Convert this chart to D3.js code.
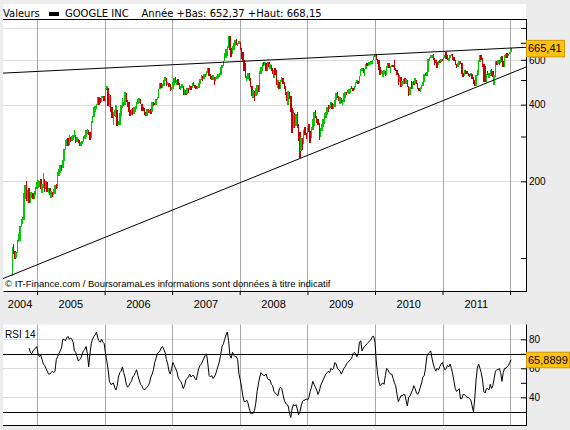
<!doctype html>
<html>
<head>
<meta charset="utf-8">
<title>GOOGLE INC</title>
<style>
  body { margin: 0; padding: 0; background: #ececec; }
  svg { display: block; }
  text { font-family: "Liberation Sans", Arial, sans-serif; fill: #000; }
  .head text { font-family: "DejaVu Sans", sans-serif; font-size: 10px; }
</style>
</head>
<body>
<svg id="chart" width="570" height="430"></svg>
<script src="https://cdn.jsdelivr.net/npm/d3@7"></script>
<script>
// weekly bars (week ending friday), 20 aug 2004 -> 6 jan 2012
var closes = [
  108.3, 106.2, 100.0, 105.3, 117.5, 119.8, 132.6, 137.7, 144.1, 172.4, 190.6, 169.4, 182.0, 169.4, 179.4, 180.4, 171.7, 180.0, 187.9, 192.8,
  195.3, 200.0, 188.3, 190.3, 204.4, 187.4, 198.0, 185.2, 185.9, 177.8, 180.0, 179.3, 180.0, 192.1, 191.3, 215.8, 220.0, 228.0, 226.0, 241.6, 266.0, 280.3, 286.3, 280.3, 297.3, 291.3, 296.2, 301.2, 302.4, 287.8, 292.4, 289.7, 280.0, 283.6, 288.5, 299.1, 300.2, 315.4, 316.5, 313.0, 296.1, 339.9, 358.2, 390.4, 390.4, 400.2, 428.6, 417.7, 409.2, 430.2, 430.9, 414.9,
  465.7, 466.3, 399.5, 433.5, 381.6, 362.6, 368.8, 377.4, 378.2, 337.5, 339.8, 365.8, 390.0, 406.2, 402.2, 437.1, 417.9, 394.3, 375.3, 370.0, 381.4, 379.4, 386.6, 390.7, 404.9, 419.3, 420.5, 403.5, 390.1, 388.1, 373.9, 368.5, 383.4, 373.3, 378.6, 377.9, 409.9, 403.8, 401.9, 420.5, 427.3, 459.7, 475.2, 471.8, 473.6, 498.8, 505.0, 480.8, 484.1, 480.3, 455.6, 460.5,
  487.2, 505.0, 489.8, 495.8, 481.5, 461.9, 469.9, 470.6, 438.7, 453.0, 440.9, 461.8, 458.2, 471.5, 466.3, 482.5, 479.0, 471.1, 466.7, 470.3, 483.5, 500.4, 515.5, 505.9, 525.0, 522.7, 539.4, 552.2, 520.1, 511.9, 503.0, 515.8, 500.0, 515.0, 515.3, 519.4, 528.8, 560.1, 567.3, 594.1, 637.4, 644.7, 674.6, 711.3, 664.0, 633.6, 676.7, 693.0, 714.9, 690.0, 696.7, 702.5,
  657.0, 638.3, 600.3, 566.4, 515.9, 516.7, 529.6, 507.8, 471.2, 433.4, 437.9, 433.6, 438.5, 471.1, 457.5, 539.4, 544.1, 581.3, 573.2, 580.1, 544.6, 585.8, 567.0, 571.5, 546.4, 528.1, 537.0, 533.8, 481.3, 492.0, 467.9, 495.0, 510.2, 490.6, 463.3, 444.3, 437.7, 449.2, 431.0, 386.9, 332.0, 372.5, 339.3, 359.4, 331.1, 310.0, 262.4, 293.0, 284.0, 315.8, 310.2, 300.4,
  321.3, 315.1, 299.7, 324.7, 338.5, 371.3, 357.7, 346.5, 338.0, 308.6, 324.4, 330.2, 347.7, 369.8, 372.5, 392.2, 389.5, 393.7, 407.3, 390.0, 393.5, 417.2, 444.3, 424.8, 420.1, 425.3, 408.5, 414.4, 430.3, 446.7, 443.1, 457.1, 460.0, 465.2, 464.8, 461.3, 472.1, 491.5, 492.5, 484.6, 516.3, 549.9, 553.7, 536.1, 551.1, 572.1, 570.0, 579.8, 585.0, 590.5, 596.4, 618.5, 620.0,
  602.0, 580.0, 550.0, 529.9, 531.3, 533.1, 540.8, 526.8, 564.2, 579.5, 560.0, 562.7, 568.8, 566.2, 550.2, 545.0, 525.7, 493.1, 507.5, 472.1, 485.6, 498.7, 488.5, 500.0, 472.7, 436.6, 467.5, 459.6, 490.1, 484.9, 500.2, 486.4, 462.0, 458.8, 470.3, 476.1, 490.2, 527.3, 525.6, 536.4, 601.5, 612.5, 613.7, 625.1, 603.3, 590.8, 590.0, 573.0, 592.2, 590.8, 604.2, 594.0,
  616.4, 624.2, 611.8, 601.0, 611.0, 624.5, 630.1, 610.0, 600.6, 576.7, 561.1, 579.7, 591.8, 578.2, 530.7, 525.1, 544.1, 535.3, 529.6, 524.0, 520.9, 523.1, 509.5, 485.0, 474.9, 521.0, 532.0, 597.6, 618.2, 603.7, 579.0, 563.8, 490.9, 526.9, 524.8, 524.9, 546.7, 525.5, 515.0, 515.1, 591.7, 590.5, 600.1, 596.1, 608.4, 594.9, 563.0, 620.4, 627.4, 626.0, 633.1, 645.9,
  665.41
];
var highs = [
  110, 113.3, 105, 106, 118, 124, 133, 142, 145, 180, 194, 201, 185, 188, 181, 182, 178, 183, 190, 199,
  202, 201, 204, 196, 216, 201, 200, 198, 189, 189, 183, 182, 187, 193, 195, 218, 223, 231, 232, 243, 268, 290, 293, 295, 304, 298, 300, 305, 317, 305, 298, 294, 289, 286, 289, 300, 303, 317, 320, 319, 313, 345, 360, 392, 395, 404, 430, 428, 426, 432, 434, 432,
  467, 475, 466, 441, 436, 390, 374, 382, 399, 380, 346, 370, 398, 423, 409, 450, 443, 416, 411, 381, 383, 387, 391, 394, 410, 420, 423, 420, 404, 393, 387, 375, 386, 383, 380, 385, 411, 408, 406, 421, 430, 461, 485, 486, 482, 500, 513, 509, 489, 488, 476, 468,
  490, 507, 513, 500, 506, 486, 472, 484, 475, 460, 457, 465, 465, 476, 472, 485, 490, 480, 475, 472, 487, 505, 523, 518, 527, 528, 541, 555, 558, 527, 520, 523, 516, 516, 520, 528, 532, 561, 570, 595, 640, 660, 680, 741, 747, 666, 677, 697, 716, 724, 697, 714,
  698, 670, 644, 590, 585, 517, 535, 531, 511, 472, 457, 451, 463, 478, 476, 542, 560, 584, 590, 589, 585, 589, 590, 580, 575, 555, 545, 555, 546, 500, 488, 500, 515, 510, 493, 475, 450, 451, 449, 427, 384, 382, 370, 369, 373, 335, 312, 297, 297, 318, 326, 311,
  323, 337, 316, 326, 352, 373, 381, 360, 352, 335, 325, 337, 351, 372, 376, 393, 398, 400, 410, 400, 401, 419, 445, 448, 432, 428, 425, 418, 445, 448, 449, 458, 462, 466, 472, 463, 473, 492, 500, 496, 517, 552, 555, 555, 553, 577, 583, 588, 590, 595, 597, 620, 625,
  630, 606, 598, 560, 548, 541, 546, 544, 566, 582, 581, 567, 572, 575, 597, 558, 549, 531, 523, 512, 496, 506, 507, 504, 501, 475, 468, 494, 491, 494, 507, 498, 484, 466, 471, 479, 492, 528, 531, 539, 603, 618, 624, 629, 630, 612, 600, 585, 596, 597, 606, 604,
  618, 628, 642, 625, 612, 625, 631, 632, 615, 601, 575, 585, 594, 594, 581, 532, 546, 547, 542, 533, 528, 535, 526, 514, 500, 523, 547, 599, 625, 627, 611, 568, 568, 528, 541, 535, 548, 550, 541, 523, 593, 595, 600, 600, 614, 620, 590, 624, 631, 637, 634, 646,
  668.15
];
var lows = [
  85, 103.6, 99, 101, 105, 116, 117, 133, 136, 141, 170, 168, 167, 165, 165, 172, 170, 171, 176, 187,
  188, 190, 186, 180, 189, 182, 186, 181, 180, 176, 172, 174, 176, 178, 186, 188, 210, 215, 220, 226, 240, 270, 276, 275, 278, 286, 289, 290, 298, 282, 286, 283, 276, 276, 280, 286, 292, 299, 306, 305, 290, 296, 339, 360, 376, 385, 405, 400, 405, 412, 423, 414,
  408, 455, 395, 390, 376, 355, 332, 362, 357, 331, 332, 334, 362, 388, 395, 400, 411, 390, 373, 362, 365, 364, 369, 376, 385, 402, 406, 402, 378, 378, 363, 360, 362, 370, 370, 369, 376, 396, 397, 400, 417, 425, 462, 465, 465, 478, 494, 475, 478, 471, 454, 456,
  460, 480, 488, 479, 478, 459, 455, 466, 438, 437, 437, 440, 444, 458, 458, 466, 474, 463, 462, 462, 467, 485, 498, 497, 505, 515, 521, 535, 518, 505, 500, 501, 480, 497, 504, 511, 512, 525, 559, 566, 594, 610, 622, 670, 655, 615, 630, 656, 681, 685, 680, 690,
  655, 602, 586, 542, 508, 495, 506, 495, 470, 432, 423, 412, 436, 440, 448, 447, 530, 555, 566, 570, 540, 543, 563, 550, 544, 526, 510, 522, 478, 465, 460, 460, 490, 483, 460, 438, 415, 400, 420, 375, 310, 325, 324, 330, 323, 287, 247, 270, 265, 281, 304, 293,
  298, 312, 282, 295, 318, 331, 355, 340, 333, 290, 299, 316, 326, 337, 355, 363, 375, 385, 389, 385, 384, 393, 417, 423, 414, 402, 406, 399, 410, 423, 435, 443, 440, 446, 460, 453, 458, 470, 488, 482, 485, 520, 541, 535, 520, 550, 565, 565, 572, 577, 580, 598, 614,
  598, 579, 548, 525, 526, 516, 530, 519, 524, 559, 556, 535, 560, 560, 549, 540, 525, 478, 492, 470, 474, 481, 481, 481, 471, 433, 436, 459, 460, 477, 484, 482, 460, 451, 450, 462, 475, 497, 518, 520, 538, 595, 609, 611, 600, 575, 582, 555, 574, 584, 589, 592,
  596, 612, 605, 598, 595, 608, 619, 600, 595, 573, 555, 564, 572, 577, 526, 516, 519, 530, 528, 520, 513, 518, 503, 484, 473, 476, 520, 525, 589, 597, 564, 490, 490, 485, 524, 510, 517, 518, 514, 480, 539, 572, 580, 573, 585, 588, 561, 566, 612, 612, 622, 630,
  652.37
];
// RSI 14, one value per week, ending on the last bar
var rsi = [
  74, 71, 70, 72, 73, 74, 75, 70, 68, 69,
  66, 63, 62, 60, 58, 56, 56, 57, 58, 57,
  58, 66, 68, 70, 72, 74, 80, 80, 79, 81,
  82, 80, 81, 80, 78, 72, 71, 68, 65, 66,
  67, 70, 72, 73, 75, 70, 61, 70, 77, 80,
  82, 83, 85, 81, 79, 78, 80, 78, 77, 70,
  65, 59, 51, 49, 49, 50, 47, 45, 48, 54,
  57, 58, 61, 57, 54, 49, 47, 48, 50, 51,
  54, 55, 57, 59, 55, 52, 49, 48, 46, 45,
  46, 47, 48, 50, 54, 56, 59, 64, 67, 70,
  71, 72, 74, 75, 73, 71, 66, 63, 58, 56,
  60, 64, 62, 60, 58, 54, 52, 51, 49, 46,
  48, 52, 53, 54, 56, 54, 55, 55, 53, 52,
  56, 60, 62, 63, 65, 67, 69, 70, 63, 55,
  54, 55, 53, 54, 56, 59, 62, 65, 70, 75,
  77, 80, 83, 85, 79, 69, 67, 71, 69, 68,
  68, 66, 56, 52, 47, 41, 37, 37, 38, 36,
  32, 29, 29, 29, 31, 36, 44, 49, 54, 57,
  56, 55, 55, 56, 53, 52, 52, 49, 48, 44,
  43, 42, 41, 45, 47, 46, 42, 38, 36, 35,
  34, 29, 26, 32, 35, 34, 35, 32, 28, 30,
  34, 37, 38, 38, 39, 38, 40, 44, 47, 51,
  49, 47, 45, 42, 44, 48, 50, 52, 54, 56,
  57, 58, 57, 60, 59, 60, 64, 63, 60, 59,
  58, 56, 58, 60, 61, 63, 64, 65, 66, 67,
  70, 71, 70, 68, 70, 78, 79, 72, 74, 75,
  76, 77, 78, 79, 80, 82, 82, 78, 65, 56,
  51, 48, 49, 50, 49, 55, 60, 59, 57, 56,
  56, 53, 50, 48, 42, 37, 39, 41, 41, 42,
  42, 38, 34, 40, 41, 43, 45, 48, 46, 43,
  42, 44, 47, 50, 54, 55, 60, 68, 70, 71,
  72, 67, 63, 60, 58, 60, 59, 61, 63, 64,
  61, 59, 60, 62, 61, 63, 60, 56, 51, 46,
  44, 45, 46, 39, 39, 42, 42, 41, 40, 40,
  39, 38, 34, 30, 39, 52, 60, 63, 60, 57,
  52, 44, 43, 46, 46, 45, 49, 46, 48, 53,
  58, 59, 59, 60, 57, 51, 57, 60, 60, 61,
  62, 64, 65.8899
];
var years = [2004, 2005, 2006, 2007, 2008, 2009, 2010, 2011];
var priceTicks = [100, 200, 300, 400, 500, 600, 700, 800];
var priceLabels = [200, 400, 600];
var priceGrid = [200, 400, 600, 800];
var rsiTicks = [40, 50, 60, 70, 80];
var rsiLabels = [40, 60, 80];
var rsiGrid = [40, 60, 80];
var rsiBands = [30, 70];
var upperTrend = [[new Date(2004, 6, 1), 532], [new Date(2012, 2, 27), 672]];
var lowerTrend = [[new Date(2004, 6, 1), 83], [new Date(2012, 2, 27), 562]];
var lastPrice = "665,41", lastRsi = "65,8899";

var weeks = d3.timeFriday.range(new Date(2004, 7, 20), new Date(2012, 0, 7));
var bars = weeks.map(function(d, i) {
    var o = i ? closes[i - 1] : lows[0];
    return {date: d, open: o, close: closes[i], high: highs[i], low: lows[i]};
});
var rsiData = rsi.map(function(v, k) {
    return {date: weeks[weeks.length - rsi.length + k], value: v};
});

var left = 3, right = 526;
var svg = d3.select("#chart");

var x = d3.scaleTime()
    .domain([new Date(2004, 6, 1), new Date(2012, 2, 27)])
    .range([left, right]);
var y = d3.scaleLog().domain([100, 800]).range([258, 28]);
var r = d3.scaleLinear().domain([40, 80]).range([397.3, 339.3]);

var yearStarts = d3.range(2005, 2013).map(function(yr) { return new Date(yr, 0, 1); });
function px(v) { return Math.round(v) + 0.5; }

// ---- price panel
svg.append("rect").attr("x", left).attr("y", 4).attr("width", right - left).attr("height", 288).attr("fill", "#fff");

svg.append("g").selectAll("line").data(priceGrid).enter().append("line")
    .attr("x1", left).attr("x2", right)
    .attr("y1", function(d) { return px(y(d)); }).attr("y2", function(d) { return px(y(d)); })
    .attr("stroke", "#dcdcdc");

svg.append("g").selectAll("line").data(yearStarts).enter().append("line")
    .attr("x1", function(d) { return px(x(d)); }).attr("x2", function(d) { return px(x(d)); })
    .attr("y1", 19).attr("y2", 292)
    .attr("stroke", "#a6a6a6");

svg.append("g").selectAll("rect").data(bars).enter().append("rect")
    .attr("x", function(d) { return x(d.date) - 0.75; })
    .attr("width", 1.5)
    .attr("y", function(d) { return y(Math.max(d.high, d.open, d.close)); })
    .attr("height", function(d) { return y(Math.min(d.low, d.open, d.close)) - y(Math.max(d.high, d.open, d.close)); })
    .attr("fill", function(d) { return d.close >= d.open ? "#00c800" : "#c80000"; })
    .attr("shape-rendering", "crispEdges");

var trend = d3.line().x(function(d) { return x(d[0]); }).y(function(d) { return y(d[1]); });
svg.append("path").attr("d", trend(upperTrend)).attr("fill", "none").attr("stroke", "#000");
svg.append("path").attr("d", trend(lowerTrend)).attr("fill", "none").attr("stroke", "#000");

svg.append("text").attr("x", 5).attr("y", 287).style("font-size", "9.5px")
    .text("\u00a9 IT-Finance.com / BoursoramaLes informations sont données à titre indicatif");

// header
var head = svg.append("g").attr("class", "head");
head.append("text").attr("x", 3).attr("y", 16.5).text("Valeurs");
head.append("rect").attr("x", 49).attr("y", 12).attr("width", 10).attr("height", 4).attr("fill", "#000");
head.append("text").attr("x", 65).attr("y", 16.5).text("GOOGLE INC");
head.append("text").attr("x", 141.5).attr("y", 16.5).text("Année +Bas: 652,37 +Haut: 668,15");
svg.append("line").attr("x1", left).attr("x2", right).attr("y1", 19.5).attr("y2", 19.5).attr("stroke", "#000");

// right price axis
svg.append("g").attr("transform", "translate(" + right + ",0)")
    .call(d3.axisRight(y).tickValues(priceTicks).tickSize(-5).tickPadding(3)
        .tickFormat(function(d) { return priceLabels.indexOf(d) >= 0 ? d : ""; }))
    .call(function(g) { g.select(".domain").remove(); })
    .call(function(g) { g.selectAll("text").style("font-size", "10px").attr("fill", "#000"); });
svg.append("line").attr("x1", right + 0.5).attr("x2", right + 0.5).attr("y1", 19).attr("y2", 292).attr("stroke", "#000");

// bottom time axis
svg.append("g").attr("transform", "translate(0,291)")
    .call(d3.axisBottom(x).tickValues(yearStarts).tickSizeInner(4).tickSizeOuter(0).tickFormat(""))
    .call(function(g) { g.select(".domain").attr("stroke", "#000"); });

svg.append("g").selectAll("text").data(years).enter().append("text")
    .attr("x", function(yr) {
        var a = Math.max(x(new Date(yr, 0, 1)), left), b = Math.min(x(new Date(yr + 1, 0, 1)), right);
        return (a + b) / 2;
    })
    .attr("y", 308).attr("text-anchor", "middle").style("font-size", "11px")
    .text(function(yr) { return yr; });

// last price tag
var py = y(closes[closes.length - 1]);
svg.append("rect").attr("x", right + 0.5).attr("y", py - 8).attr("width", 38).attr("height", 16.5)
    .attr("fill", "#ffc20e").attr("stroke", "#d49a00");
svg.append("text").attr("x", right + 2).attr("y", py + 4).style("font-size", "11px").text(lastPrice);

// ---- RSI panel
var rTop = 324.5, rBot = 425;
svg.append("rect").attr("x", left).attr("y", rTop).attr("width", right - left).attr("height", rBot - rTop).attr("fill", "#fff");

svg.append("g").selectAll("line").data(rsiGrid).enter().append("line")
    .attr("x1", left).attr("x2", right)
    .attr("y1", function(d) { return px(r(d)); }).attr("y2", function(d) { return px(r(d)); })
    .attr("stroke", "#dcdcdc");

svg.append("g").selectAll("line").data(yearStarts).enter().append("line")
    .attr("x1", function(d) { return px(x(d)); }).attr("x2", function(d) { return px(x(d)); })
    .attr("y1", rTop).attr("y2", rBot)
    .attr("stroke", "#a6a6a6");

svg.append("g").selectAll("line").data(rsiBands).enter().append("line")
    .attr("x1", left).attr("x2", right)
    .attr("y1", function(d) { return px(r(d)); }).attr("y2", function(d) { return px(r(d)); })
    .attr("stroke", "#000");

svg.append("path").datum(rsiData)
    .attr("d", d3.line().x(function(d) { return x(d.date); }).y(function(d) { return r(d.value); }))
    .attr("fill", "none").attr("stroke", "#000").attr("stroke-width", 1);

svg.append("text").attr("x", 5).attr("y", 338).style("font-size", "10px").text("RSI 14");

svg.append("g").attr("transform", "translate(" + right + ",0)")
    .call(d3.axisRight(r).tickValues(rsiTicks).tickSize(-5).tickPadding(3)
        .tickFormat(function(d) { return rsiLabels.indexOf(d) >= 0 ? d : ""; }))
    .call(function(g) { g.select(".domain").remove(); })
    .call(function(g) { g.selectAll("text").style("font-size", "10px").attr("fill", "#000"); });
svg.append("line").attr("x1", right + 0.5).attr("x2", right + 0.5).attr("y1", rTop).attr("y2", rBot).attr("stroke", "#000");
svg.append("line").attr("x1", left).attr("x2", right + 1).attr("y1", rBot + 0.5).attr("y2", rBot + 0.5).attr("stroke", "#000");

var ry = r(rsi[rsi.length - 1]);
svg.append("rect").attr("x", right + 0.5).attr("y", ry - 7.5).attr("width", 43).attr("height", 15.5)
    .attr("fill", "#ffc20e").attr("stroke", "#d49a00");
svg.append("text").attr("x", right + 2).attr("y", ry + 4).style("font-size", "11px").text(lastRsi);
</script>
</body>
</html>
